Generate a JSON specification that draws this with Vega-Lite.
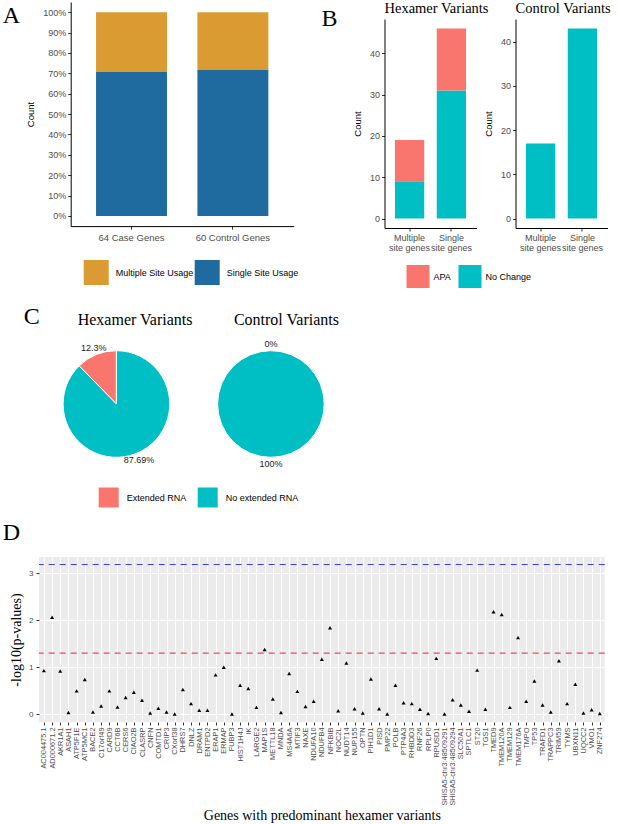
{
  "$schema": "https://vega.github.io/schema/vega-lite/v6.json",
  "background": "white",
  "padding": {"left": 2, "top": 1, "right": 0, "bottom": 0},
  "config": {
    "view": {"stroke": null},
    "font": "Liberation Sans",
    "axis": {"labelFont": "Liberation Sans", "labelColor": "#4D4D4D", "titleFont": "Liberation Sans", "titleColor": "#000000", "titleFontWeight": "normal", "domainColor": "#000000", "domainWidth": 1, "tickColor": "#333333", "grid": false, "labelFontSize": 9, "titleFontSize": 9.5, "tickSize": 3},
    "legend": {"labelFont": "Liberation Sans", "labelColor": "#000000", "labelFontSize": 9, "padding": 0},
    "title": {"font": "Liberation Serif", "fontWeight": "normal", "color": "#000000", "baseline": "alphabetic"}
  },
  "resolve": {"scale": {"color": "independent"}},
  "spacing": 12,
  "vconcat": [
    {
      "resolve": {"scale": {"color": "independent"}},
      "spacing": 17,
      "vconcat": [
        {
          "resolve": {"scale": {"color": "independent"}},
          "spacing": 22.5,
          "hconcat": [
            {
              "width": 254.7,
              "height": 207.1,
              "title": {"text": "A", "anchor": "start", "frame": "group", "fontSize": 24, "dx": -36.3, "offset": -19.5},
              "data": {"values": [
                {"group": "64 Case Genes", "usage": "Multiple Site Usage", "n": 19},
                {"group": "64 Case Genes", "usage": "Single Site Usage", "n": 46},
                {"group": "60 Control Genes", "usage": "Multiple Site Usage", "n": 17},
                {"group": "60 Control Genes", "usage": "Single Site Usage", "n": 43}
              ]},
              "mark": {"type": "bar"},
              "encoding": {
                "x": {"field": "group", "type": "nominal", "sort": ["64 Case Genes", "60 Control Genes"], "scale": {"range": [31.7, 254.7], "paddingInner": 0.3, "paddingOuter": 0.25}, "axis": {"title": null, "labelAngle": 0, "labelFontSize": 9.5, "labelPadding": 3}},
                "y": {"field": "n", "type": "quantitative", "stack": "normalize", "scale": {"domain": [-0.05, 1.05], "range": [207.1, -17], "nice": false, "zero": false}, "axis": {"offset": -31.7, "values": [0, 0.1, 0.2, 0.3, 0.4, 0.5, 0.6, 0.7, 0.8, 0.9, 1], "format": ".0%", "title": "Count", "titlePadding": 7, "labelPadding": 2}},
                "color": {"field": "usage", "type": "nominal", "scale": {"domain": ["Multiple Site Usage", "Single Site Usage"], "range": ["#DA9B33", "#1F6A9F"]}, "legend": {"title": null, "orient": "none", "legendX": 44.7, "legendY": 241, "direction": "horizontal", "symbolType": "square", "symbolSize": 625, "symbolStrokeWidth": 0, "labelOffset": 7, "columnPadding": 1, "labelFontSize": 9}},
                "order": {"field": "usage", "type": "ordinal", "sort": "descending"}
              }
            },
            {
              "bounds": "flush",
              "spacing": 39,
              "title": {"text": "B", "anchor": "start", "frame": "group", "fontSize": 24, "dx": -63, "offset": -29.5},
              "hconcat": [
                {
                  "width": 92,
                  "height": 209,
                  "title": {"text": "Hexamer Variants", "anchor": "start", "frame": "group", "fontSize": 14.5, "offset": 2.5},
                  "data": {"values": [
                    {"site": "Multiple site genes", "status": "No Change", "count": 9},
                    {"site": "Multiple site genes", "status": "APA", "count": 10},
                    {"site": "Single site genes", "status": "No Change", "count": 31},
                    {"site": "Single site genes", "status": "APA", "count": 15}
                  ]},
                  "mark": {"type": "bar"},
                  "encoding": {
                    "x": {"field": "site", "type": "nominal", "scale": {"paddingInner": 0.3, "paddingOuter": 0.25}, "axis": {"title": null, "labelAngle": 0, "labelPadding": 2, "labelLineHeight": 10, "labelExpr": "datum.value == 'Multiple site genes' ? ['Multiple', 'site genes'] : ['Single', 'site genes']"}},
                    "y": {"field": "count", "type": "quantitative", "stack": "zero", "scale": {"domain": [-2.3, 48.3], "nice": false, "zero": false}, "axis": {"values": [0, 10, 20, 30, 40], "title": "Count", "titlePadding": 7, "labelPadding": 2}},
                    "color": {"field": "status", "type": "nominal", "scale": {"domain": ["APA", "No Change"], "range": ["#F8766D", "#00BFC4"]}, "legend": {"title": null, "orient": "none", "legendX": 22, "legendY": 246, "direction": "horizontal", "symbolType": "square", "symbolSize": 529, "symbolStrokeWidth": 0, "labelOffset": 4, "columnPadding": 7}},
                    "order": {"field": "status", "type": "ordinal", "sort": "descending"}
                  }
                },
                {
                  "width": 92,
                  "height": 209,
                  "title": {"text": "Control Variants", "anchor": "start", "frame": "group", "fontSize": 14.5, "offset": 2.5},
                  "data": {"values": [
                    {"site": "Multiple site genes", "status": "No Change", "count": 17},
                    {"site": "Single site genes", "status": "No Change", "count": 43}
                  ]},
                  "mark": {"type": "bar"},
                  "encoding": {
                    "x": {"field": "site", "type": "nominal", "scale": {"paddingInner": 0.3, "paddingOuter": 0.25}, "axis": {"title": null, "labelAngle": 0, "labelPadding": 2, "labelLineHeight": 10, "labelExpr": "datum.value == 'Multiple site genes' ? ['Multiple', 'site genes'] : ['Single', 'site genes']"}},
                    "y": {"field": "count", "type": "quantitative", "stack": "zero", "scale": {"domain": [-2.15, 45.15], "nice": false, "zero": false}, "axis": {"values": [0, 10, 20, 30, 40], "title": "Count", "titlePadding": 7, "labelPadding": 2}},
                    "color": {"field": "status", "type": "nominal", "scale": {"domain": ["APA", "No Change"], "range": ["#F8766D", "#00BFC4"]}, "legend": {"title": null, "orient": "none", "legendX": 22, "legendY": 246, "direction": "horizontal", "symbolType": "square", "symbolSize": 529, "symbolStrokeWidth": 0, "labelOffset": 4, "columnPadding": 7}},
                    "order": {"field": "status", "type": "ordinal", "sort": "descending"}
                  }
                }
              ]
            }
          ]
        },
        {
          "bounds": "flush",
          "spacing": 36.3,
          "title": {"text": "C", "anchor": "start", "frame": "group", "fontSize": 24, "dx": -15.3, "offset": -17.6},
          "hconcat": [
            {
              "width": 154.8,
              "height": 130,
              "title": {"text": "Hexamer Variants", "anchor": "start", "frame": "group", "fontSize": 16, "dx": 38.7, "offset": 11.5},
              "data": {"values": [
                {"rna": "Extended RNA", "pct": 12.31, "label": "12.3%"},
                {"rna": "No extended RNA", "pct": 87.69, "label": "87.69%"}
              ]},
              "encoding": {
                "theta": {"field": "pct", "type": "quantitative", "stack": true},
                "order": {"field": "rna", "type": "ordinal", "sort": "descending"}
              },
              "layer": [
                {
                  "mark": {"type": "arc", "outerRadius": 53.3, "stroke": "white", "strokeWidth": 1},
                  "encoding": {"color": {"field": "rna", "type": "nominal", "scale": {"domain": ["Extended RNA", "No extended RNA"], "range": ["#F8766D", "#00BFC4"]}, "legend": {"title": null, "orient": "none", "legendX": 59.7, "legendY": 148.5, "direction": "horizontal", "symbolType": "square", "symbolSize": 400, "symbolStrokeWidth": 0, "labelOffset": 8, "columnPadding": 11}}}
                },
                {
                  "mark": {"type": "text", "radius": 60, "fontSize": 9, "color": "#1A1A1A"},
                  "encoding": {"detail": {"field": "rna", "type": "nominal"}, "text": {"field": "label", "type": "nominal"}}
                }
              ]
            },
            {
              "width": 81.2,
              "height": 130,
              "title": {"text": "Control Variants", "anchor": "start", "frame": "group", "fontSize": 16, "dx": 3.6, "offset": 11.5},
              "data": {"values": [
                {"rna": "Extended RNA", "pct": 0, "label": "0%"},
                {"rna": "No extended RNA", "pct": 100, "label": "100%"}
              ]},
              "encoding": {
                "theta": {"field": "pct", "type": "quantitative", "stack": true},
                "order": {"field": "rna", "type": "ordinal", "sort": "descending"}
              },
              "layer": [
                {
                  "mark": {"type": "arc", "outerRadius": 53.3, "stroke": "white", "strokeWidth": 1},
                  "encoding": {"color": {"field": "rna", "type": "nominal", "scale": {"domain": ["Extended RNA", "No extended RNA"], "range": ["#F8766D", "#00BFC4"]}, "legend": {"title": null, "orient": "none", "legendX": 59.7, "legendY": 148.5, "direction": "horizontal", "symbolType": "square", "symbolSize": 400, "symbolStrokeWidth": 0, "labelOffset": 8, "columnPadding": 11}}}
                },
                {
                  "mark": {"type": "text", "radius": 60, "fontSize": 9, "color": "#1A1A1A"},
                  "encoding": {"detail": {"field": "rna", "type": "nominal"}, "text": {"field": "label", "type": "nominal"}}
                }
              ]
            }
          ]
        }
      ]
    },
    {
      "width": 565.7,
      "height": 165,
      "view": {"fill": "#EBEBEB", "stroke": null},
      "title": {"text": "D", "anchor": "start", "frame": "group", "fontSize": 24, "dx": -36.3, "offset": 12.4},
      "layer": [
        {
          "data": {"values": [
            {"threshold": "p = 0.05", "level": 1.30103},
            {"threshold": "corrected", "level": 3.18}
          ]},
          "mark": {"type": "rule", "strokeDash": [6, 5], "strokeWidth": 1},
          "encoding": {
            "y": {"field": "level", "type": "quantitative"},
            "color": {"field": "threshold", "type": "nominal", "scale": {"domain": ["p = 0.05", "corrected"], "range": ["#E3262B", "#3A3AD0"]}, "legend": null}
          }
        },
        {
          "data": {"values": [
            {"gene": "AC004475.1", "logp": 0.93},
            {"gene": "AD000671.2", "logp": 2.06},
            {"gene": "AKR1A1", "logp": 0.92},
            {"gene": "ASAH1", "logp": 0.04},
            {"gene": "ATP5F1E", "logp": 0.5},
            {"gene": "ATP5MC1", "logp": 0.74},
            {"gene": "BACE2", "logp": 0.05},
            {"gene": "C17orf49", "logp": 0.18},
            {"gene": "CARD9", "logp": 0.5},
            {"gene": "CCT6B", "logp": 0.16},
            {"gene": "CERS6", "logp": 0.36},
            {"gene": "CIAO2B", "logp": 0.47},
            {"gene": "CLASRP", "logp": 0.3},
            {"gene": "CNFN", "logp": 0.03},
            {"gene": "COMTD1", "logp": 0.13},
            {"gene": "CRIP3", "logp": 0.05},
            {"gene": "CXorf38", "logp": 0.01},
            {"gene": "DHRS7", "logp": 0.53},
            {"gene": "DNLZ", "logp": 0.23},
            {"gene": "DRAM1", "logp": 0.09},
            {"gene": "ENTPD2", "logp": 0.09},
            {"gene": "ERAP1", "logp": 0.84},
            {"gene": "ERMAP", "logp": 1.0},
            {"gene": "FUBP3", "logp": 0.01},
            {"gene": "HIST1H4J", "logp": 0.62},
            {"gene": "IK", "logp": 0.55},
            {"gene": "LARGE2", "logp": 0.15},
            {"gene": "MAP1S", "logp": 1.38},
            {"gene": "METTL18", "logp": 0.33},
            {"gene": "MNDA", "logp": 0.04},
            {"gene": "MS4A6A", "logp": 0.87},
            {"gene": "MTIF3", "logp": 0.49},
            {"gene": "NAXE", "logp": 0.17},
            {"gene": "NDUFA10", "logp": 0.28},
            {"gene": "NDUFB4", "logp": 1.17},
            {"gene": "NFKBIB", "logp": 1.84},
            {"gene": "NOC2L", "logp": 0.08},
            {"gene": "NUDT14", "logp": 1.09},
            {"gene": "NUP155", "logp": 0.12},
            {"gene": "OPTN", "logp": 0.03},
            {"gene": "PIH1D1", "logp": 0.75},
            {"gene": "PISD", "logp": 0.12},
            {"gene": "PMP22", "logp": 0.01},
            {"gene": "POLB", "logp": 0.62},
            {"gene": "PTP4A3", "logp": 0.25},
            {"gene": "RHBDD3", "logp": 0.23},
            {"gene": "RNF26", "logp": 0.11},
            {"gene": "RPLP0", "logp": 0.02},
            {"gene": "RPUSD1", "logp": 1.19},
            {"gene": "SHISA5-chr3:48509291", "logp": 0.01},
            {"gene": "SHISA5-chr3:48509294", "logp": 0.31},
            {"gene": "SLC50A1", "logp": 0.2},
            {"gene": "SPTLC1", "logp": 0.07},
            {"gene": "ST20", "logp": 0.94},
            {"gene": "TGS1", "logp": 0.11},
            {"gene": "TMED9", "logp": 2.18},
            {"gene": "TMEM120A", "logp": 2.12},
            {"gene": "TMEM129", "logp": 0.15},
            {"gene": "TMEM176A", "logp": 1.63},
            {"gene": "TMPO", "logp": 0.28},
            {"gene": "TP53", "logp": 0.71},
            {"gene": "TRAFD1", "logp": 0.2},
            {"gene": "TRAPPC3", "logp": 0.05},
            {"gene": "TRIM59", "logp": 1.14},
            {"gene": "TYMS", "logp": 0.23},
            {"gene": "UBXN11", "logp": 0.64},
            {"gene": "UQCC2", "logp": 0.03},
            {"gene": "VMO1", "logp": 0.1},
            {"gene": "ZNF274", "logp": 0.02}
          ]},
          "mark": {"type": "point", "shape": "triangle-up", "filled": true, "color": "#000000", "opacity": 1, "size": 16},
          "encoding": {
            "x": {"field": "gene", "type": "nominal", "sort": null, "scale": {"type": "point", "padding": 0.6}, "axis": {"title": "Genes with predominant hexamer variants", "titleFont": "Liberation Serif", "titleFontSize": 14, "titlePadding": 3, "labelAngle": -90, "labelFontSize": 7.4, "labelPadding": 2, "labelOverlap": false, "domain": false, "tickSize": 3, "grid": true, "gridColor": "#FFFFFF", "gridWidth": 1}},
            "y": {"field": "logp", "type": "quantitative", "scale": {"domain": [-0.16, 3.34], "nice": false, "zero": false}, "axis": {"title": "-log10(p-values)", "titleFont": "Liberation Serif", "titleFontSize": 14, "titlePadding": 5, "values": [0, 0.5, 1, 1.5, 2, 2.5, 3], "labelExpr": "datum.value % 1 == 0 ? '' + datum.value : ''", "labelFontSize": 8, "labelPadding": 3, "domain": false, "grid": true, "gridColor": "#FFFFFF", "gridWidth": {"condition": {"test": "datum.value % 1 != 0", "value": 0.5}, "value": 1.1}, "tickSize": {"condition": {"test": "datum.value % 1 != 0", "value": 0}, "value": 3}}}
          }
        }
      ]
    }
  ]
}
